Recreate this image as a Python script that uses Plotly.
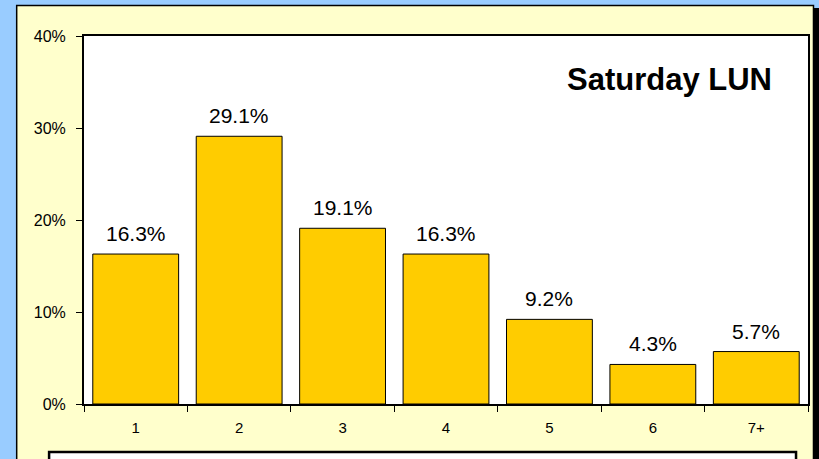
import plotly.graph_objects as go

# Share of units by group size
categories = ["1", "2", "3", "4", "5", "6", "7+"]
shares = [16.3, 29.1, 19.1, 16.3, 9.2, 4.3, 5.7]
y_ticks = [0, 10, 20, 30, 40]
y_tick_labels = ["0%", "10%", "20%", "30%", "40%"]
title_text = "Saturday LUN"

W, H = 819, 459
ML, MR, MT, MB = 84, 9, 36, 55
PW, PH = W - ML - MR, H - MT - MB


def px_x(px):
    return (px - ML) / PW


def px_y(py):
    return (H - MB - py) / PH


FONT = "Liberation Sans, Arial, sans-serif"

fig = go.Figure()
fig.add_trace(go.Bar(
    x=categories,
    y=shares,
    marker=dict(color="#FFCC00", line=dict(color="#000000", width=1)),
    width=0.83,
    hoverinfo="skip",
))

# value labels above each bar (category axis positions are 0-based indices)
for i, v in enumerate(shares):
    fig.add_annotation(
        x=i, y=v, xref="x", yref="y",
        text=f"{v:.1f}%", showarrow=False,
        yanchor="bottom", yshift=7,
        font=dict(family=FONT, size=21, color="#000000"),
    )

fig.add_annotation(
    x=px_x(776), y=px_y(79), xref="paper", yref="paper",
    text=f"<b>{title_text}</b>", showarrow=False,
    xanchor="right", yanchor="middle",
    font=dict(family=FONT, size=31, color="#000000"),
)

shapes = [
    # panel shadow
    dict(type="rect", xref="paper", yref="paper",
         x0=px_x(19), x1=px_x(823), y0=px_y(480), y1=px_y(8),
         fillcolor="#000000", line=dict(width=0), layer="below"),
    # panel
    dict(type="rect", xref="paper", yref="paper",
         x0=px_x(16.5), x1=px_x(815.5), y0=px_y(480), y1=px_y(5.5),
         fillcolor="#FFFFCC", line=dict(color="#000000", width=1.5), layer="below"),
    # plot area
    dict(type="rect", xref="paper", yref="paper",
         x0=0, x1=1, y0=0, y1=1,
         fillcolor="#FFFFFF", line=dict(width=0), layer="below"),
    # lower box
    dict(type="rect", xref="paper", yref="paper",
         x0=px_x(49), x1=px_x(798), y0=px_y(490), y1=px_y(452),
         fillcolor="#FFFFFF", line=dict(color="#000000", width=2.5), layer="below"),
]

fig.update_layout(
    width=W, height=H,
    margin=dict(l=ML, r=MR, t=MT, b=MB, pad=0),
    paper_bgcolor="#99CCFF",
    plot_bgcolor="#FFFFFF",
    showlegend=False,
    bargap=0.17,
    shapes=shapes,
    font=dict(family=FONT, color="#000000"),
)

fig.update_xaxes(
    type="category",
    showline=True, linecolor="#000000", linewidth=2, mirror=True,
    ticks="outside", tickson="boundaries", ticklen=6, tickwidth=1, tickcolor="#000000",
    tickfont=dict(family=FONT, size=15, color="#000000"),
    ticklabelstandoff=9,
    showgrid=False, zeroline=False,
)
fig.update_yaxes(
    range=[0, 40],
    tickvals=y_ticks, ticktext=y_tick_labels,
    showline=True, linecolor="#000000", linewidth=2, mirror=True,
    ticks="outside", ticklen=6, tickwidth=1, tickcolor="#000000",
    tickfont=dict(family=FONT, size=16, color="#000000"),
    ticklabelstandoff=7,
    showgrid=False, zeroline=False,
)

fig.write_html("out.html")
